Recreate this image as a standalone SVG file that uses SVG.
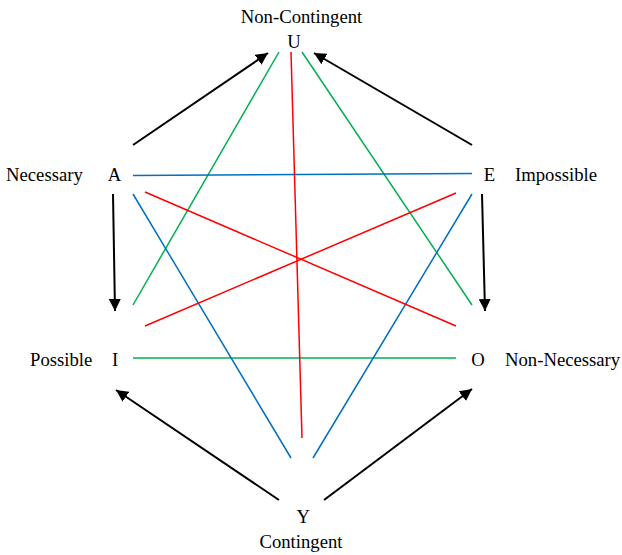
<svg xmlns="http://www.w3.org/2000/svg" width="622" height="555" viewBox="0 0 622 555">
<style>
text{font-family:"Liberation Serif","Times New Roman",serif;font-size:18.7px;fill:#000}
.k{stroke:#000;stroke-width:2;fill:none}
.g{stroke:#00B050;stroke-width:1.5;fill:none}
.b{stroke:#0070C0;stroke-width:1.5;fill:none}
.r{stroke:#FF0000;stroke-width:1.5;fill:none}
</style>
<defs>
<marker id="ah" viewBox="0 0 12 12" refX="12" refY="6" markerWidth="12" markerHeight="12" orient="auto" markerUnits="userSpaceOnUse">
<path d="M0,0 L12,6 L0,12 Z" fill="#000"/>
</marker>
</defs>
<rect width="622" height="555" fill="#fff"/>
<g id="connectors">
<line class="k" x1="133" y1="145" x2="268" y2="53" marker-end="url(#ah)"/>
<line class="k" x1="472" y1="145" x2="314" y2="53" marker-end="url(#ah)"/>
<line class="k" x1="113" y1="194" x2="115" y2="311" marker-end="url(#ah)"/>
<line class="k" x1="482" y1="194" x2="485" y2="311" marker-end="url(#ah)"/>
<line class="k" x1="279" y1="500" x2="116" y2="390" marker-end="url(#ah)"/>
<line class="k" x1="324" y1="500" x2="472" y2="389" marker-end="url(#ah)"/>
<line class="g" x1="279" y1="52" x2="133" y2="305"/>
<line class="g" x1="302" y1="52" x2="472" y2="305"/>
<line class="g" x1="133" y1="358" x2="456" y2="358"/>
<line class="b" x1="133" y1="175.5" x2="472" y2="173.5"/>
<line class="b" x1="133" y1="194" x2="291" y2="458"/>
<line class="b" x1="472" y1="194" x2="313" y2="458"/>
<line class="r" x1="291" y1="52" x2="302" y2="438"/>
<line class="r" x1="145" y1="192" x2="456" y2="326"/>
<line class="r" x1="456" y1="193" x2="145" y2="326"/>
</g>
<g id="U"><text x="301.5" y="23.3" text-anchor="middle">Non-Contingent</text><text x="294" y="48.3" text-anchor="middle">U</text></g>
<g id="A"><text x="6" y="180.7">Necessary</text><text x="114.5" y="180.7" text-anchor="middle">A</text></g>
<g id="E"><text x="489.5" y="180.7" text-anchor="middle">E</text><text x="515" y="180.7">Impossible</text></g>
<g id="I"><text x="30" y="365.7">Possible</text><text x="115" y="365.7" text-anchor="middle">I</text></g>
<g id="O"><text x="478" y="365.7" text-anchor="middle">O</text><text x="505" y="365.7">Non-Necessary</text></g>
<g id="Y"><text x="303.3" y="523.3" text-anchor="middle">Y</text><text x="301" y="548.3" text-anchor="middle">Contingent</text></g>
</svg>
